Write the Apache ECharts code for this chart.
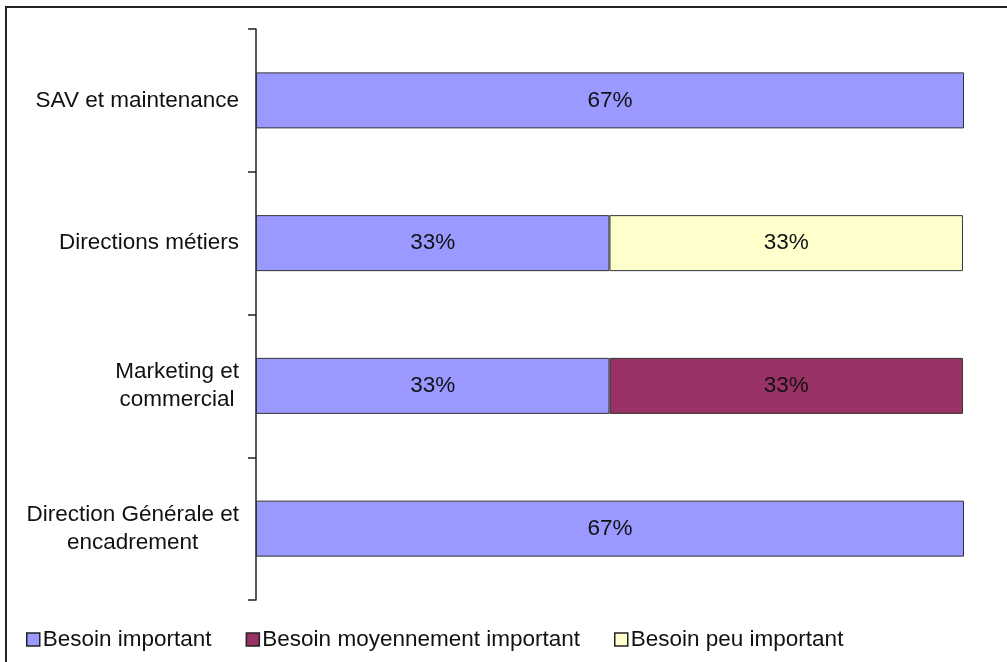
<!DOCTYPE html>
<html>
<head>
<meta charset="utf-8">
<script src="https://cdn.jsdelivr.net/npm/echarts@6/dist/echarts.min.js"></script>
<style>
  html, body { margin: 0; padding: 0; background: #fff; }
  #chart { width: 1007px; height: 662px; }
</style>
</head>
<body>
<div id="chart"></div>
<script>
// Departments, listed top to bottom
const categories = [
  'SAV et maintenance',
  'Directions métiers',
  'Marketing et\ncommercial',
  'Direction Générale et\nencadrement'
];
// Share of respondents per level of need (%), null where there is no answer
const besoinImportant = [66.7, 33.3, 33.3, 66.7];
const besoinMoyen = [null, null, 33.3, null];
const besoinPeu = [null, 33.3, null, null];
const seriesNames = ['Besoin important', 'Besoin moyennement important', 'Besoin peu important'];

const FONT = 'Liberation Sans, Arial, sans-serif';
const FS = 22.5;

function barSeries(name, data, color) {
  return {
    name: name,
    type: 'bar',
    stack: 'total',
    data: data,
    barWidth: 56,
    itemStyle: { color: color, borderColor: '#333', borderWidth: 1 },
    label: {
      show: true,
      position: 'inside',
      color: '#111',
      fontFamily: FONT,
      fontSize: FS,
      formatter: p => Math.round(p.value) + '%'
    }
  };
}

const chart = echarts.init(document.getElementById('chart'), null, { renderer: 'canvas' });
chart.setOption({
  animation: false,
  backgroundColor: '#fff',
  textStyle: { fontFamily: FONT },
  graphic: [{
    type: 'rect',
    shape: { x: 6, y: 7, width: 1200, height: 900 },
    style: { fill: null, stroke: '#222', lineWidth: 2 },
    silent: true
  }],
  grid: { left: 256, right: 43, top: 29, bottom: 62, containLabel: false },
  xAxis: {
    type: 'value',
    min: 0,
    max: 66.7,
    show: false
  },
  yAxis: {
    type: 'category',
    data: categories,
    inverse: true,
    axisLine: { show: true, lineStyle: { color: '#222', width: 1.5 } },
    axisTick: { show: true, length: 8, lineStyle: { color: '#222', width: 1.5 } },
    axisLabel: {
      margin: 17,
      align: 'right',
      formatter: v => '{c|' + v + '}',
      rich: {
        c: { align: 'center', fontFamily: FONT, fontSize: FS, color: '#111', lineHeight: 28 }
      }
    },
    splitLine: { show: false }
  },
  legend: {
    left: 21,
    bottom: 6,
    itemGap: 34,
    itemWidth: 13,
    itemHeight: 13,
    icon: 'rect',
    textStyle: { fontFamily: FONT, fontSize: FS, color: '#111', padding: [0, 0, 0, -2] },
    itemStyle: { borderColor: '#222', borderWidth: 1.5 },
    data: seriesNames
  },
  series: [
    barSeries(seriesNames[0], besoinImportant, '#9999FF'),
    barSeries(seriesNames[1], besoinMoyen, '#993366'),
    barSeries(seriesNames[2], besoinPeu, '#FFFFCC')
  ]
});
</script>
</body>
</html>
